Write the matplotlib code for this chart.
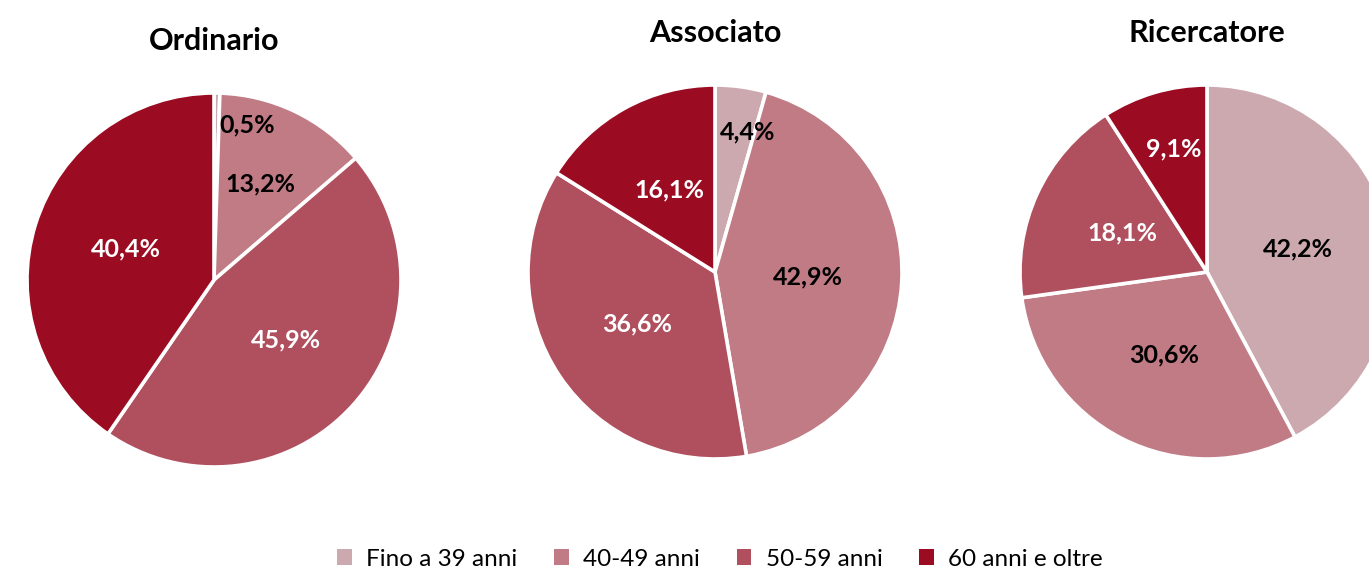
import numpy as np
import matplotlib.pyplot as plt
from matplotlib.patches import Patch

plt.rcParams['font.family'] = ['Lato', 'DejaVu Sans']

categories = ['Fino a 39 anni', '40-49 anni', '50-59 anni', '60 anni e oltre']
titles = ['Ordinario', 'Associato', 'Ricercatore']
ordinario = [0.5, 13.2, 45.9, 40.4]
associato = [4.4, 42.9, 36.6, 16.1]
ricercatore = [42.2, 30.6, 18.1, 9.1]

colors = ['#cba9ae', '#c07b85', '#b0505f', '#9b0c23']
text_colors = ['black', 'black', 'white', 'white']

W, H = 1369, 571
fig = plt.figure(figsize=(W / 100, H / 100), dpi=100)

# pie centres (px, from top), radius in px
centres = [(214, 280), (715, 272), (1207, 272)]
R = 187
title_y = [41, 33, 33]
# manual tweaks for small slices: (radius factor, angle shift deg)
tweaks = {(0, 0): (0.85, -11), (0, 1): (0.57, 0), (0, 2): (0.5, 2), (0, 3): (0.5, -2),
          (1, 0): (0.77, -5), (2, 3): (0.68, -1)}


def fmt(v):
    return ('%.1f%%' % v).replace('.', ',')


for i, vals in enumerate([ordinario, associato, ricercatore]):
    cx, cy = centres[i]
    ax = fig.add_axes([(cx - R) / W, (H - cy - R) / H, 2 * R / W, 2 * R / H])
    wedges, _ = ax.pie(vals, colors=colors, startangle=90, counterclock=False,
                       radius=1, wedgeprops=dict(edgecolor='white', linewidth=2.6))
    ax.set_xlim(-1, 1)
    ax.set_ylim(-1, 1)
    ax.set_aspect('equal')
    ax.axis('off')
    for j, w in enumerate(wedges):
        rf, shift = tweaks.get((i, j), (0.5, 0))
        ang = np.deg2rad((w.theta1 + w.theta2) / 2 + shift)
        ax.text(rf * np.cos(ang), rf * np.sin(ang), fmt(vals[j]), ha='center', va='center',
                color=text_colors[j], fontsize=18, fontweight='bold')
    fig.text(cx / W, 1 - title_y[i] / H, titles[i], ha='center', va='center',
             fontsize=22, fontweight='bold')

handles = [Patch(facecolor=c, edgecolor='none') for c in colors]
fig.legend(handles, categories, loc='center', bbox_to_anchor=(720 / W, 1 - 559 / H), ncol=4,
           frameon=False, fontsize=17.5, handlelength=0.6, handleheight=0.6,
           handletextpad=0.6, columnspacing=1.5)

fig.savefig('out.png', dpi=100)
